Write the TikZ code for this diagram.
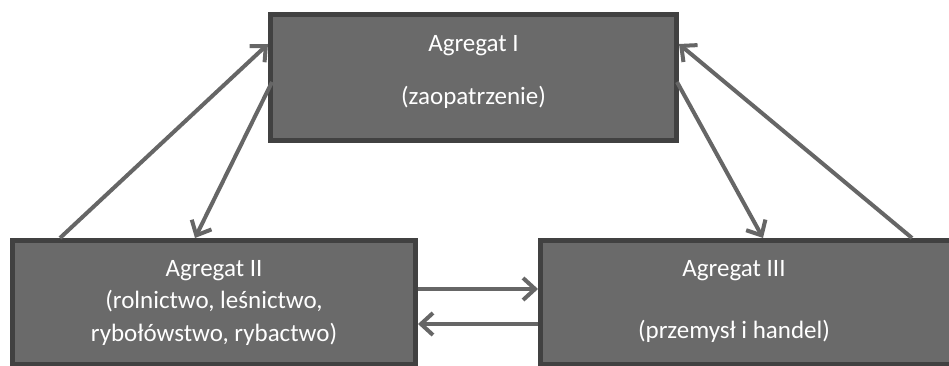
\documentclass[tikz,border=0pt]{standalone}
\usepackage{fontspec}
\setmainfont{Carlito}
\usepackage{xcolor}
\usepackage{tikz}
\usetikzlibrary{arrows.meta}

\definecolor{boxfill}{HTML}{6A6A6A}
\definecolor{boxline}{HTML}{414141}
\definecolor{arrline}{HTML}{666666}

\begin{document}
\begin{tikzpicture}[x=1pt,y=-1pt]
  \tikzstyle{agg}=[draw=boxline, fill=boxfill, line width=5pt, rectangle, inner sep=0pt] % the three aggregates
  \tikzstyle{txt}=[white, align=center, font={\fontsize{25}{32.5}\selectfont}] % labels in white
  \tikzstyle{flow}=[arrline, line width=4pt, -{Straight Barb[length=12pt,width=22pt]}] % flows between them
  \path[use as bounding box, clip] (0,0) rectangle (949,366);

  \node[agg, minimum width=406pt, minimum height=126pt] (a1) at (473.5,77.5) {};
  \node[agg, minimum width=403pt, minimum height=124pt] (a2) at (214,302.5) {};
  \node[agg, minimum width=457pt, minimum height=124pt] (a3) at (769,302.5) {}; % runs off the right edge

  \node[txt] (t1) at (473.5,71.5) {Agregat I\\[20.5pt](zaopatrzenie)};
  \node[txt] (t2) at (214,302.5) {Agregat II\\(rolnictwo, leśnictwo,\\rybołówstwo, rybactwo)};
  \node[txt] (t3) at (734,301) {Agregat III\\[29.5pt](przemysł i handel)};

  % up and down between I and the others
  \draw[flow] ([xshift=50pt]a2.north west) -- ([yshift=-32pt]a1.north west);
  \draw[flow] ([xshift=4pt,yshift=-70pt]a1.north west) -- ([xshift=185pt]a2.north west);
  \draw[flow] ([xshift=-2pt,yshift=-70pt]a1.north east) -- ([xshift=225pt]a3.north west);
  \draw[flow] ([xshift=374pt]a3.north west) -- ([yshift=-32pt]a1.north east);
  % between II and III
  \draw[flow] ([yshift=-51pt]a2.north east) -- ([yshift=-51pt]a3.north west);
  \draw[flow] ([yshift=-86pt]a3.north west) -- ([yshift=-86pt]a2.north east);
\end{tikzpicture}
\end{document}
